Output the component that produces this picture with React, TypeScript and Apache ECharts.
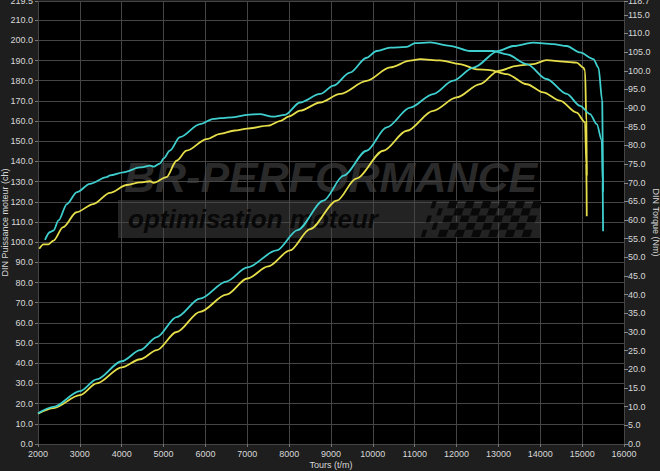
import React, { useEffect, useRef } from 'react';
import * as echarts from 'echarts';

// ---- Data ----
const rpmCyanPower = [2000, 2370, 3000, 3400, 4000, 4440, 4840, 5310, 5870, 6500, 7000, 7700, 8200, 8820, 9300, 9850, 10330, 10890, 11440, 11920, 12400, 13000, 13360, 13830, 14310, 14630, 14950, 15270, 15390, 15480, 15500];
const cyanPower = [15.2, 18.4, 26.2, 32.0, 41.0, 46.5, 53.0, 62.9, 72.0, 80.5, 87.5, 95.9, 106.0, 120.6, 133.0, 145.3, 156.9, 166.7, 173.4, 180.0, 186.5, 194.8, 197.2, 198.9, 198.1, 197.2, 194.0, 190.7, 186.5, 170.0, 125.0];

const rpmYellowPower = [2000, 2370, 3000, 3400, 4000, 4440, 4840, 5310, 5870, 6500, 7000, 7500, 8020, 8500, 9140, 9600, 10250, 10810, 11440, 12000, 12560, 13000, 13440, 13830, 14150, 14550, 14870, 15030, 15070, 15100, 15110];
const yellowPower = [15.0, 17.8, 24.2, 30.0, 38.0, 42.0, 46.5, 55.5, 65.5, 74.0, 82.0, 88.0, 95.9, 106.5, 120.6, 131.5, 145.3, 155.2, 165.1, 171.7, 178.3, 184.9, 187.4, 188.2, 190.2, 189.5, 189.0, 186.5, 184.9, 160.0, 133.0];

const rpmCyanTorque = [2167, 2290, 2370, 2490, 2690, 2930, 3240, 3640, 3720, 4040, 4440, 4680, 4760, 4920, 5000, 5150, 5390, 5870, 6190, 6350, 6700, 7000, 7300, 7600, 7900, 8260, 8740, 9060, 9450, 9850, 10090, 10410, 10810, 11010, 11370, 11840, 12320, 12880, 13200, 13680, 14150, 14630, 14950, 15190, 15350, 15470, 15490, 15500];
const cyanTorque = [54.7, 56.8, 57.2, 59.9, 64.3, 67.5, 69.7, 71.5, 72.0, 72.8, 74.1, 74.6, 74.3, 75.2, 76.5, 78.6, 82.2, 85.7, 87.1, 87.3, 87.6, 88.2, 88.4, 87.7, 88.2, 91.5, 93.8, 96.0, 99.5, 103.5, 105.3, 106.2, 106.4, 107.4, 107.6, 106.7, 105.3, 105.3, 104.4, 101.8, 97.8, 93.8, 90.6, 88.4, 85.7, 81.3, 70.0, 57.0];

const rpmYellowTorque = [2030, 2130, 2250, 2370, 2600, 2920, 3320, 3720, 4120, 4440, 4680, 4760, 5070, 5310, 5550, 6030, 6350, 6700, 7000, 7500, 7800, 8000, 8260, 8740, 9220, 9850, 10410, 10890, 11130, 11600, 12080, 12480, 12800, 13200, 13680, 14070, 14470, 14870, 15070, 15100, 15110];
const yellowTorque = [52.3, 53.5, 53.5, 54.5, 58.1, 62.1, 64.3, 67.3, 69.4, 70.1, 70.4, 70.0, 71.5, 75.9, 78.6, 81.7, 83.1, 84.0, 84.5, 85.3, 86.6, 87.8, 89.3, 91.5, 93.8, 97.3, 100.9, 102.7, 103.1, 102.8, 101.8, 100.4, 100.2, 99.1, 96.4, 94.2, 92.0, 88.8, 86.2, 75.0, 61.0];

const xTitle = 'Tours (t/m)';
const leftTitle = 'DIN Puissance moteur (ch)';
const rightTitle = 'DIN Torque (Nm)';

const CYAN = '#3fcfcf';
const YELLOW = '#e6df4a';
const FONT = '"Liberation Sans", Arial, sans-serif';

function pairs(xs: number[], ys: number[]) {
  return xs.map((x, i) => [x, ys[i]]);
}

function buildFlag() {
  const els: any[] = [];
  const fx = 432, fy = 201, cw = 8.4, chh = 7.2, sk = 2.4;
  for (let r = 0; r < 5; r++) {
    for (let c = 0; c < 13; c++) {
      if ((r + c) % 2 !== 0) continue;
      const x0 = fx + c * cw - r * sk;
      const y0 = fy + r * chh;
      const w = c < 2 ? cw * 0.5 : cw;
      els.push({
        type: 'polygon',
        z: 1,
        silent: true,
        shape: {
          points: [
            [x0 + sk * 0.3, y0],
            [x0 + w + sk * 0.3, y0],
            [x0 + w - sk * 0.7, y0 + chh],
            [x0 - sk * 0.7, y0 + chh],
          ],
        },
        style: { fill: 'rgba(5,5,5,0.85)' },
      });
    }
  }
  return els;
}

export default function App() {
  const ref = useRef<HTMLDivElement>(null);

  useEffect(() => {
    if (!ref.current) return;
    const chart = echarts.init(ref.current, undefined, { renderer: 'svg' });
    const labelStyle = { color: '#d8d8d8', fontSize: 9, fontFamily: FONT };
    const lineBase = {
      type: 'line' as const,
      showSymbol: false,
      symbol: 'none',
      smooth: 0.3,
      smoothMonotone: 'x' as const,
      z: 3,
    };
    chart.setOption({
      animation: false,
      backgroundColor: '#1e1e1e',
      textStyle: { fontFamily: FONT },
      grid: {
        left: 38,
        right: 36,
        top: 1,
        bottom: 27,
        show: true,
        backgroundColor: '#000000',
        borderWidth: 0,
        containLabel: false,
        outerBoundsMode: 'none',
      },
      xAxis: {
        type: 'value',
        min: 2000,
        max: 16000,
        interval: 1000,
        name: xTitle,
        nameLocation: 'middle',
        nameGap: 16,
        nameMoveOverlap: false,
        nameTextStyle: { color: '#d8d8d8', fontSize: 9, fontFamily: FONT },
        axisLine: { show: false },
        axisTick: { show: true, length: 3, lineStyle: { color: '#777' } },
        axisLabel: { ...labelStyle, margin: 5, formatter: (v: number) => String(v) },
        splitLine: { show: true, lineStyle: { color: '#454545', width: 1 } },
      },
      yAxis: [
        {
          type: 'value',
          position: 'left',
          min: 0,
          max: 219.5,
          interval: 10,
          name: leftTitle,
          nameLocation: 'middle',
          nameGap: 29,
          nameRotate: 90,
          nameMoveOverlap: false,
          nameTextStyle: { color: '#d8d8d8', fontSize: 9, fontFamily: FONT },
          axisLine: { show: false },
          axisTick: { show: true, length: 3, lineStyle: { color: '#777' } },
          axisLabel: { ...labelStyle, margin: 5, formatter: (v: number) => v.toFixed(1) },
          splitLine: { show: true, lineStyle: { color: '#454545', width: 1 } },
        },
        {
          type: 'value',
          position: 'right',
          min: 0,
          max: 118.7,
          interval: 5,
          name: rightTitle,
          nameLocation: 'middle',
          nameGap: 27,
          nameRotate: -90,
          nameMoveOverlap: false,
          nameTextStyle: { color: '#d8d8d8', fontSize: 9, fontFamily: FONT },
          axisLine: { show: false },
          axisTick: { show: true, length: 4, lineStyle: { color: '#888' } },
          axisLabel: { ...labelStyle, margin: 4, formatter: (v: number) => v.toFixed(1) },
          splitLine: { show: false },
        },
      ],
      graphic: [
        {
          type: 'text',
          z: 1,
          silent: true,
          x: 124,
          y: 177,
          style: {
            text: 'BR-PERFORMANCE',
            font: 'italic bold 43px "Liberation Sans", Arial, sans-serif',
            fill: 'rgba(72,72,72,0.6)',
            textVerticalAlign: 'middle',
          },
        },
        {
          type: 'rect',
          z: 1,
          silent: true,
          shape: { x: 118, y: 200, width: 422, height: 38 },
          style: { fill: 'rgba(70,70,70,0.5)' },
        },
        {
          type: 'text',
          z: 1,
          silent: true,
          x: 128,
          y: 219,
          style: {
            text: 'optimisation moteur',
            font: 'italic bold 26px "Liberation Sans", Arial, sans-serif',
            fill: '#080808',
            textVerticalAlign: 'middle',
          },
        },
        ...buildFlag(),
      ],
      series: [
        { ...lineBase, name: 'Torque origine', yAxisIndex: 1, data: pairs(rpmYellowTorque, yellowTorque), lineStyle: { color: YELLOW, width: 1.8 } },
        { ...lineBase, name: 'Puissance origine', yAxisIndex: 0, data: pairs(rpmYellowPower, yellowPower), lineStyle: { color: YELLOW, width: 1.8 } },
        { ...lineBase, name: 'Torque optimisé', yAxisIndex: 1, data: pairs(rpmCyanTorque, cyanTorque), lineStyle: { color: CYAN, width: 1.8 } },
        { ...lineBase, name: 'Puissance optimisée', yAxisIndex: 0, data: pairs(rpmCyanPower, cyanPower), lineStyle: { color: CYAN, width: 1.8 } },
      ],
    });
    return () => chart.dispose();
  }, []);

  return (
    <div
      ref={ref}
      style={{ position: 'fixed', left: 0, top: 0, width: 660, height: 471 }}
    />
  );
}
